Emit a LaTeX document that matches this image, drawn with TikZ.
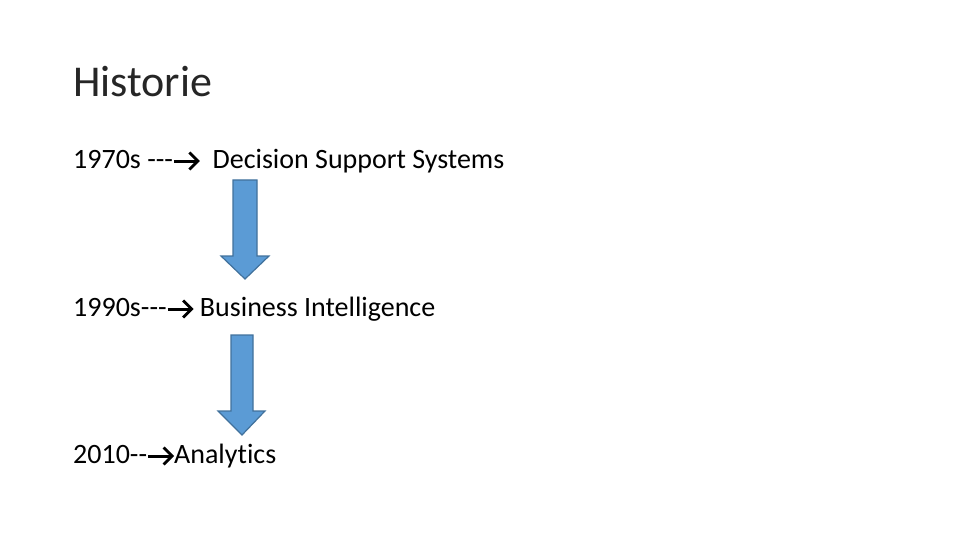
\documentclass[tikz,border=0pt]{standalone}
\usepackage{fontspec}
\setmainfont{Carlito}[Ligatures={NoCommon}]
\definecolor{arrfill}{HTML}{5B9BD5}
\definecolor{arrline}{HTML}{41719C}
\newcommand{\rarr}{\tikz[baseline=0pt,x=1pt,y=1pt]{\useasboundingbox (0,0) rectangle (27,14);
  \draw[line width=3pt,line cap=butt] (1,7) -- (24.5,7);
  \draw[line width=2.8pt,line join=miter,line cap=butt] (16.5,-1.5) -- (25,7) -- (16.5,15.5);}}
\begin{document}
\begin{tikzpicture}[x=1pt,y=-1pt,
  titletext/.style={anchor=base west,inner sep=0pt,font=\fontsize{44}{52}\selectfont,text=black!85},
  bodytext/.style={anchor=base west,inner sep=0pt,font=\fontsize{28}{34}\selectfont},
  blockarrow/.style={fill=arrfill,draw=arrline,line width=1.2pt,line join=miter}]
\useasboundingbox (0,0) rectangle (960,540);
\node[titletext] (title) at (73,97) {Historie};
\node[bodytext] (l1) at (73,168) {1970s -{}-{}-\rarr\ \ Decision Support Systems};
\node[bodytext] (l2) at (73,316) {1990s-{}-{}-\rarr\ Business Intelligence};
\node[bodytext] (l3) at (73,463) {2010-{}-\rarr Analytics};
\draw[blockarrow] (233,180) -- (257,180) -- (257,256) -- (269,256) -- (245,279) -- (221,256) -- (233,256) -- cycle;
\draw[blockarrow] (231,335) -- (253,335) -- (253,411) -- (265,411) -- (242,435) -- (218,411) -- (231,411) -- cycle;
\end{tikzpicture}
\end{document}
